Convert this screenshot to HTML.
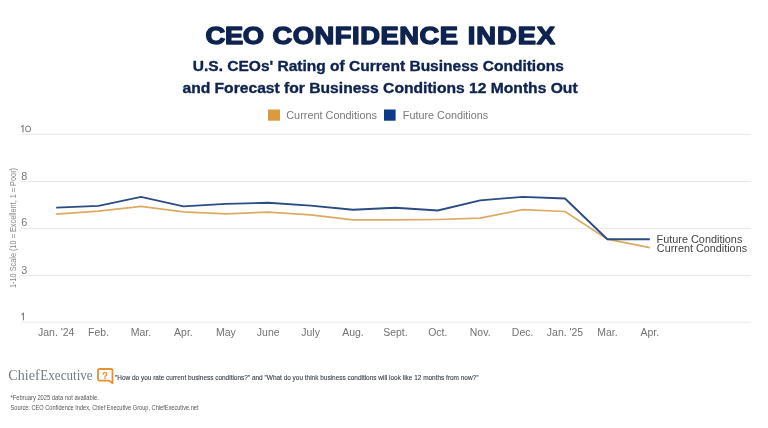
<!DOCTYPE html>
<html><head><meta charset="utf-8"><style>
html,body{margin:0;padding:0;background:#ffffff;width:768px;height:428px;overflow:hidden;}
svg{display:block;will-change:transform;}
</style></head><body>
<svg width="768" height="428" viewBox="0 0 768 428">
<rect width="768" height="428" fill="#ffffff"/>
<g transform="translate(204.73,0) scale(1.12,1)"><text x="0.70" y="44.30" font-family='"Liberation Sans", sans-serif' font-size="24.42" font-weight="bold" fill="#0f2350" textLength="52.32" lengthAdjust="spacing"  stroke="#0f2350" stroke-width="1.4" stroke-linejoin="round">CEO</text></g>
<g transform="translate(271.61,0) scale(1.12,1)"><text x="0.70" y="44.30" font-family='"Liberation Sans", sans-serif' font-size="24.42" font-weight="bold" fill="#0f2350" textLength="165.81" lengthAdjust="spacing"  stroke="#0f2350" stroke-width="1.4" stroke-linejoin="round">CONFIDENCE</text></g>
<g transform="translate(466.87,0) scale(1.12,1)"><text x="0.70" y="44.30" font-family='"Liberation Sans", sans-serif' font-size="24.42" font-weight="bold" fill="#0f2350" textLength="78.07" lengthAdjust="spacing"  stroke="#0f2350" stroke-width="1.4" stroke-linejoin="round">INDEX</text></g>
<text x="192.77" y="71.42" font-family='"Liberation Sans", sans-serif' font-size="14.46" font-weight="bold" fill="#0f2350" textLength="371.02" lengthAdjust="spacingAndGlyphs"  stroke="#0f2350" stroke-width="0.35" stroke-linejoin="round">U.S. CEOs' Rating of Current Business Conditions</text>
<text x="182.44" y="92.73" font-family='"Liberation Sans", sans-serif' font-size="14.46" font-weight="bold" fill="#0f2350" textLength="395.19" lengthAdjust="spacingAndGlyphs"  stroke="#0f2350" stroke-width="0.35" stroke-linejoin="round">and Forecast for Business Conditions 12 Months Out</text>
<rect x="268" y="109.5" width="12" height="11.2" fill="#da9b3e"/>
<rect x="384" y="109.5" width="11.6" height="11.2" fill="#0c3988"/>
<text x="286.26" y="119.20" font-family='"Liberation Sans", sans-serif' font-size="10.76" font-weight="normal" fill="#787878" textLength="90.78" lengthAdjust="spacingAndGlyphs" >Current Conditions</text>
<text x="402.77" y="119.20" font-family='"Liberation Sans", sans-serif' font-size="10.76" font-weight="normal" fill="#787878" textLength="85.46" lengthAdjust="spacingAndGlyphs" >Future Conditions</text>
<rect x="21" y="133.80" width="730" height="1" fill="#e8e8e8"/>
<path d="M21.3,126.80 L23.0,125.50 V132.40" fill="none" stroke="#777777" stroke-width="1.05"/>
<ellipse cx="28.1" cy="128.95" rx="2.5" ry="3.0" fill="none" stroke="#777777" stroke-width="1.0"/>
<rect x="21" y="181.00" width="730" height="1" fill="#e8e8e8"/>
<g transform="translate(21.2,0) scale(1.08,1)"><text x="0" y="179.60" font-family='"Liberation Sans", sans-serif' font-size="10.03" fill="#777777">8</text></g>
<rect x="21" y="227.90" width="730" height="1" fill="#e8e8e8"/>
<g transform="translate(21.2,0) scale(1.08,1)"><text x="0" y="226.50" font-family='"Liberation Sans", sans-serif' font-size="10.03" fill="#777777">6</text></g>
<rect x="21" y="275.10" width="730" height="1" fill="#e8e8e8"/>
<g transform="translate(21.2,0) scale(1.08,1)"><text x="0" y="273.70" font-family='"Liberation Sans", sans-serif' font-size="10.03" fill="#777777">3</text></g>
<rect x="21" y="321.70" width="730" height="1" fill="#e8e8e8"/>
<path d="M21.6,314.70 L23.4,313.40 V320.30" fill="none" stroke="#777777" stroke-width="1.05"/>
<polyline points="56.2,214.2 98.6,211.2 141.0,206.3 183.4,211.9 225.8,213.8 268.2,212.1 310.6,214.9 353.0,219.9 395.4,219.9 437.8,219.5 480.2,218.2 522.6,209.7 565.0,211.5 607.4,239.2 649.8,247.7" fill="none" stroke="#ddaa64" stroke-width="1.75" stroke-linejoin="miter"/>
<polyline points="56.2,207.6 98.6,205.8 141.0,196.9 183.4,206.3 225.8,203.8 268.2,202.8 310.6,205.6 353.0,209.7 395.4,207.8 437.8,210.5 480.2,200.4 522.6,196.9 565.0,198.5 607.4,239.2 649.8,239.2" fill="none" stroke="#2a4b84" stroke-width="1.85" stroke-linejoin="miter"/>
<text x="56.20" y="335.5" text-anchor="middle" font-family='"Liberation Sans", sans-serif' font-size="10.47" fill="#727272">Jan. &#39;24</text>
<text x="98.60" y="335.5" text-anchor="middle" font-family='"Liberation Sans", sans-serif' font-size="10.47" fill="#727272">Feb.</text>
<text x="141.00" y="335.5" text-anchor="middle" font-family='"Liberation Sans", sans-serif' font-size="10.47" fill="#727272">Mar.</text>
<text x="183.40" y="335.5" text-anchor="middle" font-family='"Liberation Sans", sans-serif' font-size="10.47" fill="#727272">Apr.</text>
<text x="225.80" y="335.5" text-anchor="middle" font-family='"Liberation Sans", sans-serif' font-size="10.47" fill="#727272">May</text>
<text x="268.20" y="335.5" text-anchor="middle" font-family='"Liberation Sans", sans-serif' font-size="10.47" fill="#727272">June</text>
<text x="310.60" y="335.5" text-anchor="middle" font-family='"Liberation Sans", sans-serif' font-size="10.47" fill="#727272">July</text>
<text x="353.00" y="335.5" text-anchor="middle" font-family='"Liberation Sans", sans-serif' font-size="10.47" fill="#727272">Aug.</text>
<text x="395.40" y="335.5" text-anchor="middle" font-family='"Liberation Sans", sans-serif' font-size="10.47" fill="#727272">Sept.</text>
<text x="437.80" y="335.5" text-anchor="middle" font-family='"Liberation Sans", sans-serif' font-size="10.47" fill="#727272">Oct.</text>
<text x="480.20" y="335.5" text-anchor="middle" font-family='"Liberation Sans", sans-serif' font-size="10.47" fill="#727272">Nov.</text>
<text x="522.60" y="335.5" text-anchor="middle" font-family='"Liberation Sans", sans-serif' font-size="10.47" fill="#727272">Dec.</text>
<text x="565.00" y="335.5" text-anchor="middle" font-family='"Liberation Sans", sans-serif' font-size="10.47" fill="#727272">Jan. &#39;25</text>
<text x="607.40" y="335.5" text-anchor="middle" font-family='"Liberation Sans", sans-serif' font-size="10.47" fill="#727272">Mar.</text>
<text x="649.80" y="335.5" text-anchor="middle" font-family='"Liberation Sans", sans-serif' font-size="10.47" fill="#727272">Apr.</text>
<text x="656.59" y="242.80" font-family='"Liberation Sans", sans-serif' font-size="10.17" font-weight="normal" fill="#444444" textLength="85.77" lengthAdjust="spacingAndGlyphs" >Future Conditions</text>
<text x="656.87" y="251.75" font-family='"Liberation Sans", sans-serif' font-size="10.17" font-weight="normal" fill="#444444" textLength="90.21" lengthAdjust="spacingAndGlyphs" >Current Conditions</text>
<g transform="translate(16,288) rotate(-90)"><text x="0.00" y="0.00" font-family='"Liberation Sans", sans-serif' font-size="8.14" font-weight="normal" fill="#8a8a8a" textLength="120.00" lengthAdjust="spacingAndGlyphs" >1-10 Scale (10 = Excellent, 1 = Poor)</text></g>
<text x="8.37" y="380.40" font-family='"Liberation Serif", serif' font-size="15.27" font-weight="normal" fill="#737c86" textLength="31.42" lengthAdjust="spacingAndGlyphs" >Chief</text>
<text x="40.31" y="380.40" font-family='"Liberation Serif", serif' font-size="15.27" font-weight="normal" fill="#737c86" textLength="52.36" lengthAdjust="spacingAndGlyphs" >Executive</text>
<path d="M99.5,369 H111 Q112.5,369 112.5,370.5 V383.2 L109,380.6 H99.5 Q98,380.6 98,379.1 V370.5 Q98,369 99.5,369 Z" fill="none" stroke="#e8912f" stroke-width="1.8" stroke-linejoin="round"/>
<path d="M103.2,374.2 A1.75,1.75 0 1 1 106.0,375.6 Q104.9,376.1 104.9,377.0" fill="none" stroke="#e8912f" stroke-width="1.3" stroke-linecap="round"/>
<circle cx="104.9" cy="378.4" r="0.75" fill="#e8912f"/>
<text x="115.04" y="379.65" font-family='"Liberation Sans", sans-serif' font-size="6.83" font-weight="normal" fill="#3a404c" textLength="363.47" lengthAdjust="spacingAndGlyphs"  stroke="#3a404c" stroke-width="0.1" stroke-linejoin="round">"How do you rate current business conditions?" and "What do you think business conditions will look like 12 months from now?"</text>
<text x="10.39" y="399.80" font-family='"Liberation Sans", sans-serif' font-size="6.69" font-weight="normal" fill="#555555" textLength="88.47" lengthAdjust="spacingAndGlyphs" >*February 2025 data not available.</text>
<text x="10.54" y="409.50" font-family='"Liberation Sans", sans-serif' font-size="6.69" font-weight="normal" fill="#555555" textLength="187.96" lengthAdjust="spacingAndGlyphs" >Source: CEO Confidence Index, Chief Executive Group, ChiefExecutive.net</text>
</svg>
</body></html>
